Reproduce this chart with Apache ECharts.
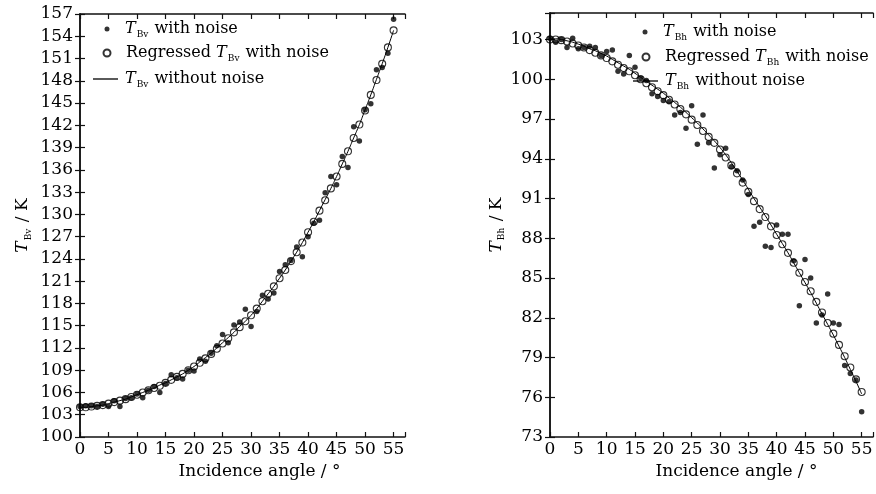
<!DOCTYPE html>
<html>
<head>
<meta charset="utf-8">
<script src="https://cdn.jsdelivr.net/npm/echarts@6/dist/echarts.min.js"></script>
<style>
html, body { margin: 0; padding: 0; background: #fff; }
#chart { width: 876px; height: 494px; }
</style>
</head>
<body>
<div id="chart"></div>
<script>
// incidence angles, degrees
var angles = [0, 1, 2, 3, 4, 5, 6, 7, 8, 9, 10, 11, 12, 13, 14, 15, 16, 17, 18, 19,
  20, 21, 22, 23, 24, 25, 26, 27, 28, 29, 30, 31, 32, 33, 34, 35, 36, 37, 38, 39,
  40, 41, 42, 43, 44, 45, 46, 47, 48, 49, 50, 51, 52, 53, 54, 55];

// T_Bv (K)
var vNoisy = [104.1, 104.2, 104.2, 104.1, 104.4, 104.1, 104.9, 104.1, 105.2, 105.3,
  105.8, 105.3, 106.3, 106.8, 106.0, 107.2, 108.4, 108.0, 107.8, 109.0,
  108.9, 110.5, 110.2, 111.3, 112.3, 113.8, 112.7, 115.1, 115.5, 117.2,
  114.9, 116.9, 119.1, 118.6, 119.4, 122.3, 123.2, 123.8, 125.6, 124.3,
  127.0, 128.8, 129.2, 132.9, 135.1, 134.0, 137.8, 136.3, 141.8, 139.9,
  144.1, 144.9, 149.5, 149.8, 151.7, 156.3];
var vRegressed = [104.0, 104.0, 104.1, 104.2, 104.3, 104.5, 104.7, 104.9, 105.1, 105.4,
  105.7, 106.0, 106.3, 106.6, 106.9, 107.3, 107.7, 108.1, 108.5, 109.0,
  109.5, 110.0, 110.6, 111.2, 111.9, 112.6, 113.3, 114.1, 114.8, 115.6,
  116.4, 117.3, 118.3, 119.3, 120.3, 121.4, 122.5, 123.7, 124.9, 126.2,
  127.6, 129.0, 130.5, 131.9, 133.5, 135.1, 136.8, 138.5, 140.3, 142.1,
  144.0, 146.1, 148.1, 150.3, 152.5, 154.8];
var vTrue = [104.0, 104.0, 104.1, 104.2, 104.3, 104.5, 104.7, 104.9, 105.1, 105.4,
  105.7, 106.0, 106.3, 106.6, 107.0, 107.3, 107.7, 108.1, 108.5, 109.0,
  109.5, 110.1, 110.7, 111.3, 112.0, 112.7, 113.4, 114.1, 114.9, 115.6,
  116.4, 117.3, 118.3, 119.3, 120.3, 121.4, 122.5, 123.7, 124.9, 126.2,
  127.6, 129.0, 130.5, 132.0, 133.5, 135.1, 136.8, 138.5, 140.3, 142.1,
  144.1, 146.1, 148.2, 150.3, 152.5, 154.8];

// T_Bh (K)
var hNoisy = [103.1, 102.8, 103.0, 102.4, 103.1, 102.3, 102.4, 102.5, 102.4, 101.8,
  102.1, 102.2, 100.6, 100.4, 101.8, 100.9, 100.1, 99.9, 98.9, 98.7,
  98.4, 98.3, 97.3, 97.5, 96.3, 98.0, 95.1, 97.3, 95.2, 93.3,
  94.3, 94.8, 93.4, 93.1, 92.4, 91.3, 88.9, 89.2, 87.4, 87.3,
  89.0, 88.3, 88.3, 86.3, 82.9, 86.4, 85.0, 81.6, 82.2, 83.8,
  81.6, 81.5, 78.4, 77.8, 77.3, 74.9];
var hRegressed = [103.0, 103.0, 102.95, 102.85, 102.7, 102.55, 102.4, 102.2, 102.0, 101.8,
  101.6, 101.35, 101.1, 100.85, 100.6, 100.3, 100.0, 99.7, 99.4, 99.1,
  98.8, 98.45, 98.1, 97.75, 97.35, 96.95, 96.55, 96.1, 95.65, 95.2,
  94.7, 94.1, 93.5, 92.9, 92.2, 91.5, 90.8, 90.2, 89.6, 88.9,
  88.25, 87.55, 86.9, 86.15, 85.4, 84.7, 84.0, 83.2, 82.4, 81.6,
  80.8, 79.95, 79.1, 78.25, 77.35, 76.4];
var hTrue = [103.05, 103.05, 103.0, 102.9, 102.8, 102.65, 102.5, 102.3, 102.15, 101.95,
  101.75, 101.5, 101.25, 101.0, 100.75, 100.45, 100.15, 99.85, 99.55, 99.25,
  98.95, 98.6, 98.25, 97.9, 97.5, 97.1, 96.7, 96.25, 95.8, 95.35,
  94.85, 94.3, 93.7, 93.05, 92.4, 91.7, 91.0, 90.35, 89.7, 89.0,
  88.3, 87.6, 86.9, 86.15, 85.4, 84.65, 83.9, 83.1, 82.3, 81.5,
  80.7, 79.85, 79.0, 78.1, 77.2, 76.25];

var FONT = 'DejaVu Serif';
var FS = 17;

function pairs(xs, ys) {
  return xs.map(function (x, i) { return [x, ys[i]]; });
}

function makeRich(fs) {
  return {
    i: { fontStyle: 'italic', fontFamily: FONT, fontSize: fs, lineHeight: 20, verticalAlign: 'middle', color: '#000' },
    s: { fontFamily: FONT, fontSize: 9, lineHeight: 9, padding: [14, 1, 0, 1], verticalAlign: 'bottom', color: '#000' },
    n: { fontFamily: FONT, fontSize: fs, lineHeight: 20, verticalAlign: 'middle', color: '#000' }
  };
}

function richName(name) {
  // 'Regressed TBv with noise' -> rich tokens
  var m = name.match(/^(.*?)T(B[vh])(.*)$/);
  var out = '';
  if (m[1]) out += '{n|' + m[1] + '}';
  return out + '{i|T}{s|' + m[2] + '}{n|' + m[3] + '}';
}

var lineCol = '#111';

function xAxis(grid, pos, shift) {
  return {
    type: 'value', gridIndex: grid, position: pos,
    min: 0, max: 57, interval: 5,
    name: pos === 'bottom' ? 'Incidence angle / °' : '',
    nameLocation: 'middle', nameGap: 26,
    nameTextStyle: { fontFamily: FONT, fontSize: FS, color: '#000', padding: [0, 0, 0, shift || 0] },
    axisLine: { lineStyle: { color: lineCol, width: 1.5 } },
    axisTick: { inside: true, length: 5, lineStyle: { color: lineCol, width: 1.2 } },
    axisLabel: {
      show: pos === 'bottom', margin: 4, fontFamily: FONT, fontSize: FS, color: '#000',
      formatter: function (v) { return v % 5 === 0 ? String(v) : ''; }
    },
    splitLine: { show: false }
  };
}

function yAxis(grid, pos, min, max, sub, gap) {
  return {
    type: 'value', gridIndex: grid, position: pos,
    min: min, max: max, interval: 3,
    name: pos === 'left' ? '{i|T}{s|' + sub + '}{n| / K}' : '',
    nameLocation: 'middle', nameGap: gap, nameRotate: 90,
    nameTextStyle: { fontFamily: FONT, fontSize: FS, color: '#000', rich: makeRich(FS) },
    axisLine: { lineStyle: { color: lineCol, width: 1.5 } },
    axisTick: { inside: true, length: 5, lineStyle: { color: lineCol, width: 1.2 } },
    axisLabel: {
      show: pos === 'left', margin: 7, fontFamily: FONT, fontSize: FS, color: '#000',
      formatter: function (v) { return (v - min) % 3 === 0 ? String(v) : ''; }
    },
    splitLine: { show: false }
  };
}

function legend(name, left, top, w, h, icon, pad) {
  return {
    data: [{ name: name, icon: icon }], left: left, top: top, orient: 'vertical',
    padding: 0, itemWidth: w, itemHeight: h, itemGap: 0, selectedMode: false,
    formatter: richName,
    textStyle: { fontFamily: FONT, fontSize: 16, color: '#000', rich: makeRich(16), padding: [0, 0, 0, pad] }
  };
}

function noisySeries(name, xi, yi, ys) {
  return {
    name: name, type: 'scatter', xAxisIndex: xi, yAxisIndex: yi,
    symbol: 'circle', symbolSize: 5.5,
    itemStyle: { color: '#000' },
    data: pairs(angles, ys), z: 4
  };
}
function regressedSeries(name, xi, yi, ys) {
  return {
    name: name, type: 'scatter', xAxisIndex: xi, yAxisIndex: yi,
    symbol: 'circle', symbolSize: 7,
    itemStyle: { color: 'rgba(255,255,255,0)', borderColor: '#000', borderWidth: 1.1 },
    data: pairs(angles, ys), z: 3
  };
}
function trueSeries(name, xi, yi, ys) {
  return {
    name: name, type: 'line', xAxisIndex: xi, yAxisIndex: yi,
    symbol: 'none', smooth: true,
    itemStyle: { color: '#000' },
    lineStyle: { color: '#000', width: 1 },
    data: pairs(angles, ys), z: 5
  };
}

var chart = echarts.init(document.getElementById('chart'), null, { renderer: 'canvas' });
chart.setOption({
  backgroundColor: '#fff',
  animation: false,
  grid: [
    { left: 80, right: 471, top: 14, bottom: 57 },
    { left: 550, right: 2, top: 13, bottom: 57 }
  ],
  xAxis: [xAxis(0, 'bottom', 34), xAxis(0, 'top'), xAxis(1, 'bottom', 50), xAxis(1, 'top')],
  yAxis: [
    yAxis(0, 'left', 100, 157, 'Bv', 47), yAxis(0, 'right', 100, 157, 'Bv', 0),
    yAxis(1, 'left', 73, 105, 'Bh', 40), yAxis(1, 'right', 73, 105, 'Bh', 0)
  ],
  legend: [
    legend('TBv with noise', 104.5, 16, 5, 5, 'circle', 10.5),
    legend('Regressed TBv with noise', 102.5, 40, 7, 7, 'circle', 10.5),
    legend('TBv without noise', 93, 66, 25, 1.3, 'rect', 2),
    legend('TBh with noise', 642.5, 19, 5, 5, 'circle', 10.5),
    legend('Regressed TBh with noise', 641.5, 44, 7, 7, 'circle', 10.5),
    legend('TBh without noise', 633, 68, 25, 1.3, 'rect', 2)
  ],
  series: [
    regressedSeries('Regressed TBv with noise', 0, 0, vRegressed),
    noisySeries('TBv with noise', 0, 0, vNoisy),
    trueSeries('TBv without noise', 0, 0, vTrue),
    regressedSeries('Regressed TBh with noise', 2, 2, hRegressed),
    noisySeries('TBh with noise', 2, 2, hNoisy),
    trueSeries('TBh without noise', 2, 2, hTrue)
  ]
});
</script>
</body>
</html>
